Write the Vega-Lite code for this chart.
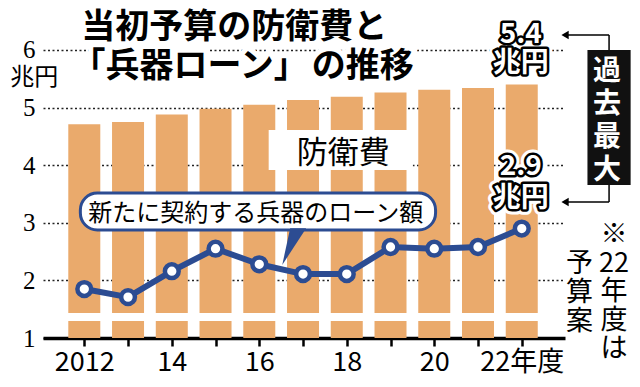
{
  "$schema": "https://vega.github.io/schema/vega-lite/v6.json",
  "width": 522,
  "height": 338,
  "autosize": {"type": "none"},
  "padding": {"left": 43, "top": 0, "right": 75, "bottom": 49},
  "background": "white",
  "config": {"view": {"stroke": null}, "text": {"font": "Noto Sans CJK JP"}},
  "data": {"values": [{}]},
  "datasets": {
    "budget": [
      {"year": 2012, "defense": 4.71, "loan": 1.85},
      {"year": 2013, "defense": 4.75, "loan": 1.71},
      {"year": 2014, "defense": 4.88, "loan": 2.16},
      {"year": 2015, "defense": 4.98, "loan": 2.55},
      {"year": 2016, "defense": 5.05, "loan": 2.28},
      {"year": 2017, "defense": 5.13, "loan": 2.11},
      {"year": 2018, "defense": 5.19, "loan": 2.11},
      {"year": 2019, "defense": 5.26, "loan": 2.58},
      {"year": 2020, "defense": 5.31, "loan": 2.55},
      {"year": 2021, "defense": 5.34, "loan": 2.58},
      {"year": 2022, "defense": 5.40, "loan": 2.90}
    ],
    "title": [
      {"t": "当初予算の防衛費と", "x": 2011.933, "y": 6.382},
      {"t": "「兵器ローン」", "x": 2011.709, "y": 5.705},
      {"t": "の推移", "x": 2017.202, "y": 5.705}
    ]
  },
  "layer": [
    {
      "data": {"name": "budget"},
      "mark": {"type": "bar", "width": 32, "color": "#EAAA6C"},
      "encoding": {
        "x": {
          "field": "year", "type": "quantitative",
          "scale": {"domain": [2011.1704, 2022.8744], "nice": false, "zero": false},
          "axis": {
            "title": null, "values": [2012, 2013, 2014, 2015, 2016, 2017, 2018, 2019, 2020, 2021, 2022],
            "labelExpr": "datum.value == 2012 ? '2012' : (datum.value == 2022 ? '22年度' : (datum.value % 2 == 0 ? slice(toString(datum.value), 2) : ''))",
            "grid": false, "domainColor": "black", "domainWidth": 3.5,
            "tickColor": "black", "tickWidth": 2.5, "tickSize": 8,
            "labelFont": "Noto Sans CJK JP", "labelFontSize": 27, "labelColor": "black",
            "labelPadding": 3, "labelFlush": false, "labelOverlap": false, "labelBound": false
          }
        },
        "y": {
          "field": "defense", "type": "quantitative",
          "scale": {"domain": [1, 6.868], "nice": false, "zero": false},
          "axis": {
            "title": null, "values": [1, 2, 3, 4, 5, 6], "format": "d", "domain": false, "ticks": false,
            "grid": true, "gridColor": "#222", "gridDash": [2, 2.5], "gridWidth": 1.5,
            "labelFont": "Liberation Serif", "labelFontSize": 25, "labelColor": "black",
            "labelPadding": 8, "labelBaseline": "middle"
          }
        },
        "y2": {"datum": 1}
      }
    },
    {
      "mark": {"type": "rule", "color": "white", "strokeWidth": 8},
      "encoding": {"y": {"datum": 1.365, "type": "quantitative"}}
    },
    {
      "mark": {"type": "rect", "color": "white"},
      "encoding": {
        "x": {"datum": 2016.215, "type": "quantitative"},
        "x2": {"datum": 2019.511},
        "y": {"datum": 4.611, "type": "quantitative"},
        "y2": {"datum": 3.917}
      }
    },
    {
      "mark": {"type": "text", "text": "防衛費", "fontSize": 31, "color": "black", "align": "center", "baseline": "middle"},
      "encoding": {
        "x": {"datum": 2017.919, "type": "quantitative"},
        "y": {"datum": 4.186, "type": "quantitative"}
      }
    },
    {
      "mark": {"type": "rect", "fill": "white", "stroke": "#2C4C92", "strokeWidth": 3, "cornerRadius": 17},
      "encoding": {
        "x": {"datum": 2011.91, "type": "quantitative"},
        "x2": {"datum": 2020.03},
        "y": {"datum": 3.517, "type": "quantitative"},
        "y2": {"datum": 2.875}
      }
    },
    {
      "mark": {"type": "point", "shape": "M -0.17 -1.1 L 0.72 -1.1 L -0.61 0.94 Z", "size": 1296, "filled": true, "color": "#2C4C92", "opacity": 1},
      "encoding": {
        "x": {"datum": 2016.776, "type": "quantitative"},
        "y": {"datum": 2.5625, "type": "quantitative"}
      }
    },
    {
      "mark": {"type": "text", "text": "新たに契約する兵器のローン額", "fontSize": 24, "color": "black", "align": "center", "baseline": "middle"},
      "encoding": {
        "x": {"datum": 2015.92, "type": "quantitative"},
        "y": {"datum": 3.153, "type": "quantitative"}
      }
    },
    {
      "data": {"name": "budget"},
      "mark": {"type": "line", "color": "#2C4C92", "strokeWidth": 6},
      "encoding": {
        "x": {"field": "year", "type": "quantitative"},
        "y": {"field": "loan", "type": "quantitative"}
      }
    },
    {
      "data": {"name": "budget"},
      "mark": {"type": "point", "shape": "circle", "filled": true, "fill": "white", "stroke": "#2C4C92", "strokeWidth": 4.5, "size": 190, "opacity": 1},
      "encoding": {
        "x": {"field": "year", "type": "quantitative"},
        "y": {"field": "loan", "type": "quantitative"}
      }
    },
    {
      "data": {"name": "title"},
      "layer": [
        {
          "mark": {"type": "text", "fontSize": 34, "fontWeight": "bold", "fill": "white", "stroke": "white", "strokeWidth": 10, "align": "left", "baseline": "middle"},
          "encoding": {"x": {"field": "x", "type": "quantitative"}, "y": {"field": "y", "type": "quantitative"}, "text": {"field": "t"}}
        },
        {
          "mark": {"type": "text", "fontSize": 34, "fontWeight": "bold", "color": "black", "align": "left", "baseline": "middle"},
          "encoding": {"x": {"field": "x", "type": "quantitative"}, "y": {"field": "y", "type": "quantitative"}, "text": {"field": "t"}}
        }
      ]
    },
    {
      "mark": {"type": "text", "text": "兆円", "fontSize": 24, "color": "black", "align": "center", "baseline": "middle"},
      "encoding": {
        "x": {"datum": 2010.857, "type": "quantitative"},
        "y": {"datum": 5.514, "type": "quantitative"}
      }
    },
    {
      "data": {"values": [
        {"t": "5.4", "x": 2021.978, "y": 6.26},
        {"t": "兆円", "x": 2021.978, "y": 5.757},
        {"t": "2.9", "x": 2021.978, "y": 3.969},
        {"t": "兆円", "x": 2021.978, "y": 3.413}
      ]},
      "layer": [
        {
          "mark": {"type": "text", "fontSize": 28, "fontWeight": "bold", "fill": "white", "stroke": "white", "strokeWidth": 11, "strokeJoin": "round", "align": "center", "baseline": "middle"},
          "encoding": {"x": {"field": "x", "type": "quantitative"}, "y": {"field": "y", "type": "quantitative"}, "text": {"field": "t"}}
        },
        {
          "mark": {"type": "text", "fontSize": 28, "fontWeight": "bold", "fill": "black", "stroke": "black", "strokeWidth": 5, "strokeJoin": "round", "align": "center", "baseline": "middle"},
          "encoding": {"x": {"field": "x", "type": "quantitative"}, "y": {"field": "y", "type": "quantitative"}, "text": {"field": "t"}}
        },
        {
          "mark": {"type": "text", "fontSize": 28, "fontWeight": "bold", "fill": "white", "align": "center", "baseline": "middle"},
          "encoding": {"x": {"field": "x", "type": "quantitative"}, "y": {"field": "y", "type": "quantitative"}, "text": {"field": "t"}}
        }
      ]
    },
    {
      "mark": {"type": "rule", "color": "black", "strokeWidth": 1.5},
      "encoding": {
        "x": {"datum": 2022.95, "type": "quantitative"},
        "x2": {"datum": 2023.996},
        "y": {"datum": 6.26, "type": "quantitative"}
      }
    },
    {
      "mark": {"type": "rule", "color": "black", "strokeWidth": 1.5},
      "encoding": {
        "x": {"datum": 2022.95, "type": "quantitative"},
        "x2": {"datum": 2023.996},
        "y": {"datum": 3.361, "type": "quantitative"}
      }
    },
    {
      "mark": {"type": "rule", "color": "black", "strokeWidth": 1.5},
      "encoding": {
        "x": {"datum": 2023.996, "type": "quantitative"},
        "y": {"datum": 6.26, "type": "quantitative"},
        "y2": {"datum": 5.9}
      }
    },
    {
      "mark": {"type": "rule", "color": "black", "strokeWidth": 1.5},
      "encoding": {
        "x": {"datum": 2023.996, "type": "quantitative"},
        "y": {"datum": 3.7, "type": "quantitative"},
        "y2": {"datum": 3.361}
      }
    },
    {
      "data": {"values": [{"y": 6.26}, {"y": 3.361}]},
      "mark": {"type": "point", "shape": "triangle-left", "filled": true, "color": "black", "size": 70, "opacity": 1},
      "encoding": {
        "x": {"datum": 2022.99, "type": "quantitative"},
        "y": {"field": "y", "type": "quantitative"}
      }
    },
    {
      "mark": {"type": "rect", "color": "#111111"},
      "encoding": {
        "x": {"datum": 2023.502, "type": "quantitative"},
        "x2": {"datum": 2024.489},
        "y": {"datum": 6.0, "type": "quantitative"},
        "y2": {"datum": 3.656}
      }
    },
    {
      "mark": {"type": "text", "text": ["過", "去", "最", "大"], "lineHeight": 33, "fontSize": 28, "fontWeight": "bold", "color": "white", "align": "center", "baseline": "middle"},
      "encoding": {
        "x": {"datum": 2023.95, "type": "quantitative"},
        "y": {"datum": 5.618, "type": "quantitative"}
      }
    },
    {
      "mark": {"type": "text", "text": ["※", "22", "年", "度", "は"], "lineHeight": 28.5, "fontSize": 27, "color": "black", "align": "center", "baseline": "middle"},
      "encoding": {
        "x": {"datum": 2024.108, "type": "quantitative"},
        "y": {"datum": 2.788, "type": "quantitative"}
      }
    },
    {
      "mark": {"type": "text", "text": ["予", "算", "案"], "lineHeight": 29, "fontSize": 27, "color": "black", "align": "center", "baseline": "middle"},
      "encoding": {
        "x": {"datum": 2023.323, "type": "quantitative"},
        "y": {"datum": 2.285, "type": "quantitative"}
      }
    }
  ]
}
